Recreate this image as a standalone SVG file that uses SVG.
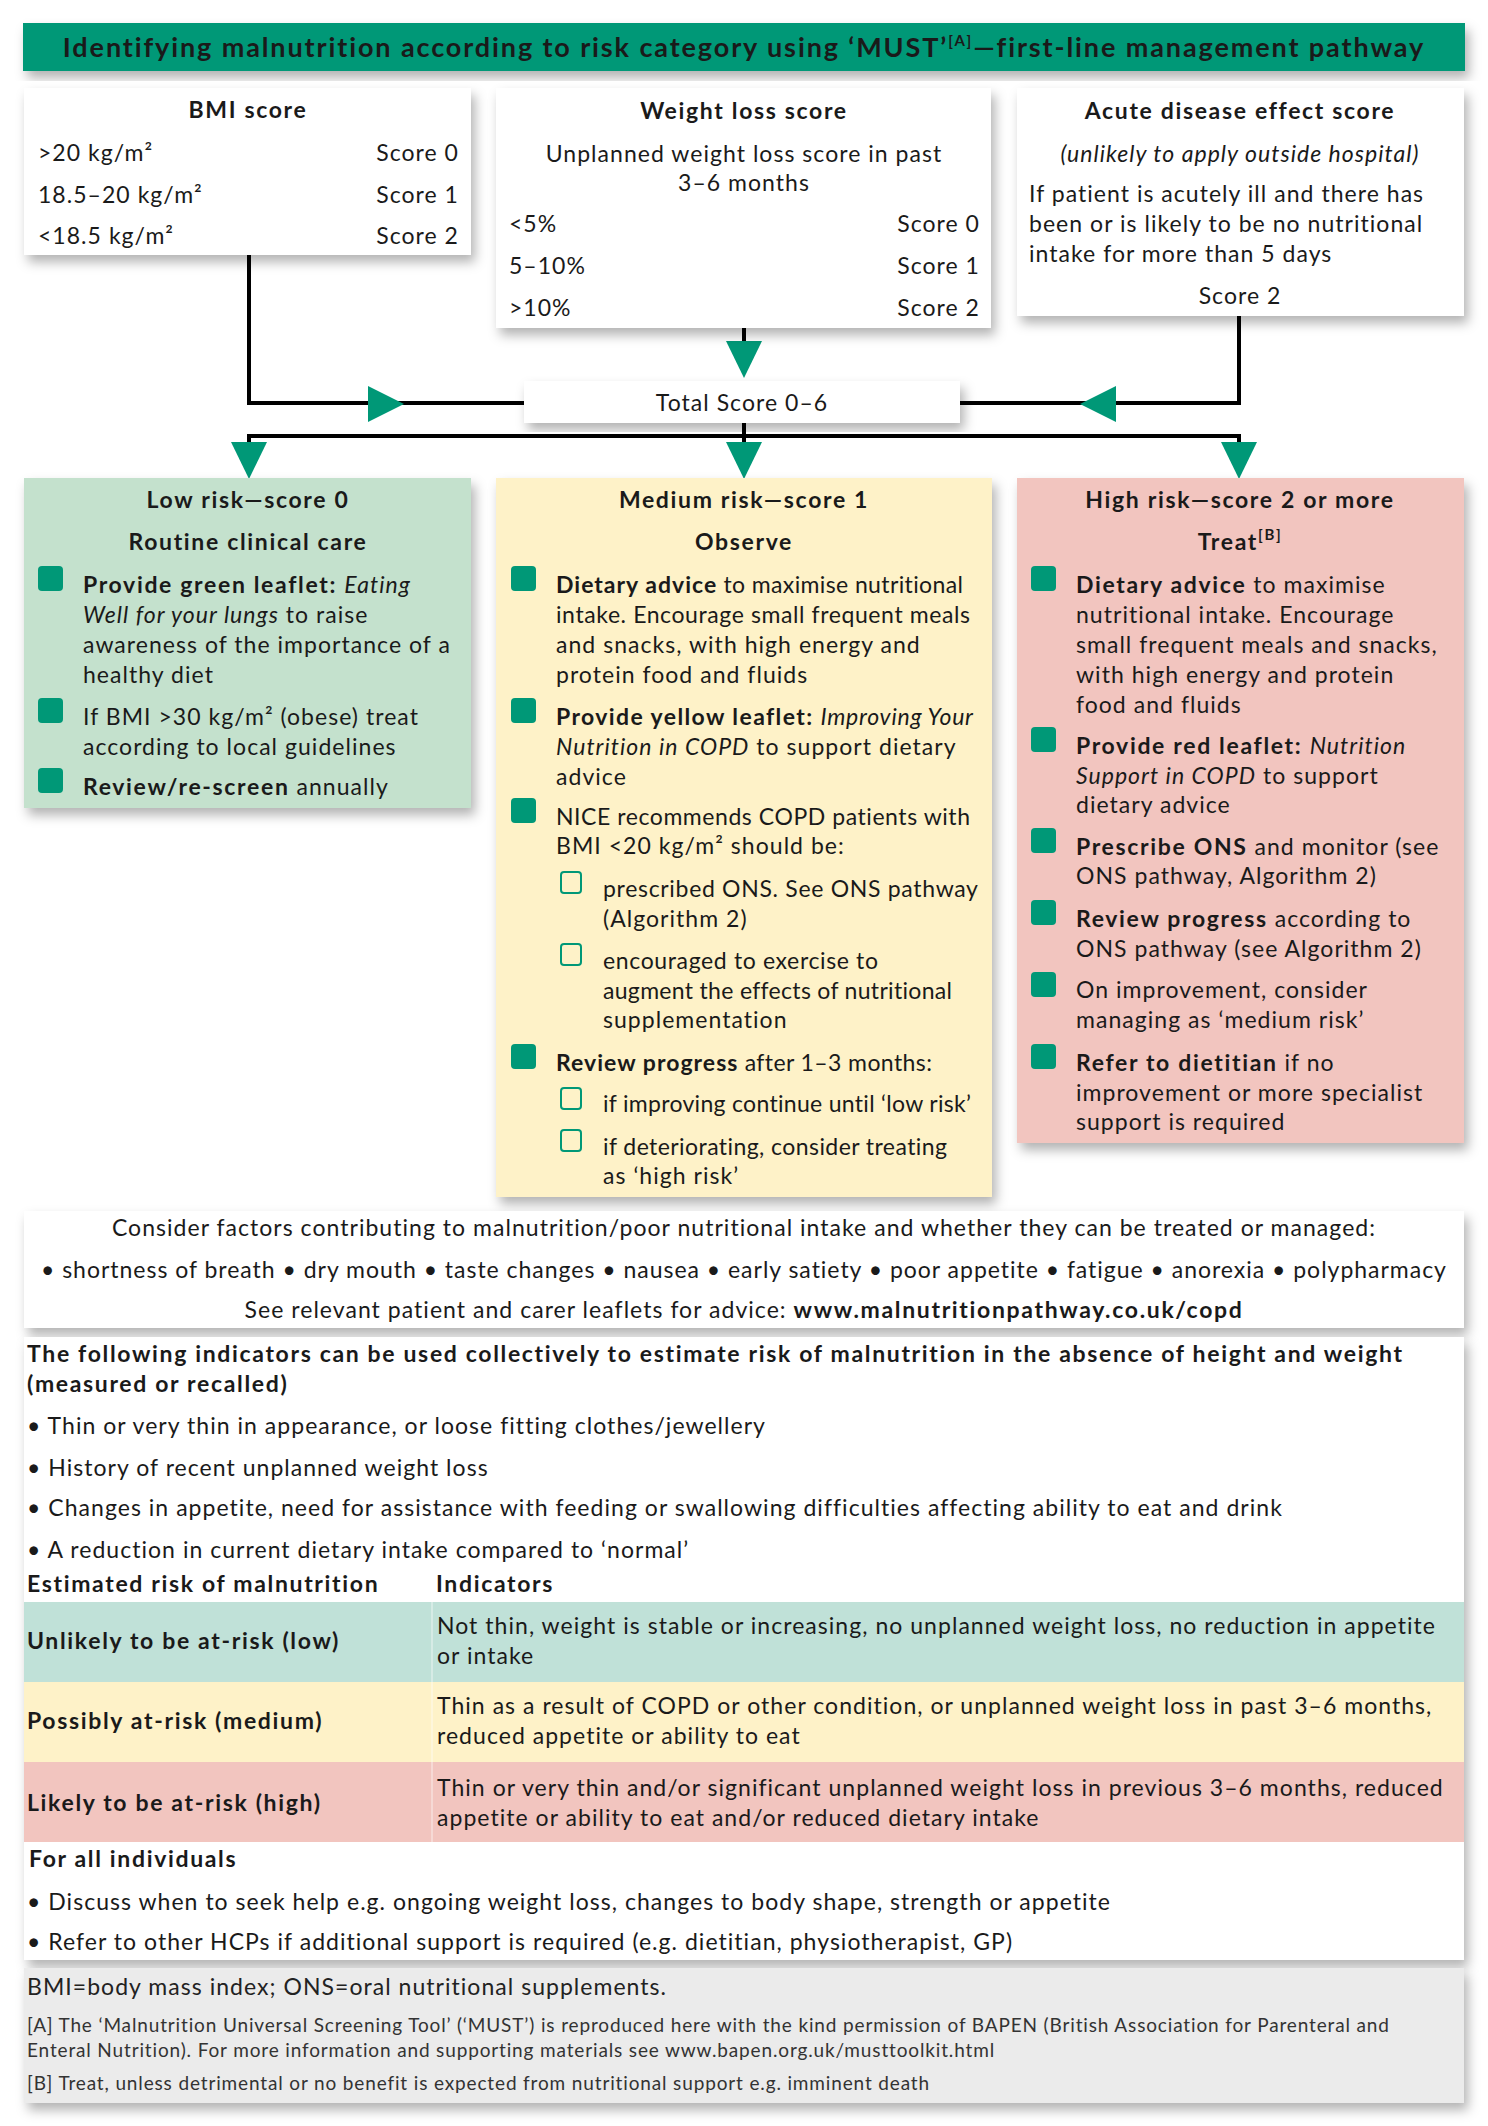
<svg xmlns="http://www.w3.org/2000/svg" width="1488" height="2126" viewBox="0 0 1488 2126">
<style>
text{font-family:Lato,'Noto Sans',sans-serif;font-size:23px;fill:#1a1a1a;letter-spacing:0.045em}
.b{font-weight:700;letter-spacing:0.072em}
.i{font-style:italic}
.c{text-anchor:middle}
.e{text-anchor:end}
.sm{font-size:19px;fill:#333}
.ttl{font-size:27px;font-weight:700;letter-spacing:0.07em}
.box{fill:#fff;filter:url(#sh)}
.bul{fill:#009877}
.sub{fill:none;stroke:#009877;stroke-width:2}
.ln{fill:none;stroke:#000;stroke-width:4}
.ar{fill:#009877}
</style>
<defs>
<filter id="sh" x="-5%" y="-10%" width="115%" height="130%">
<feDropShadow dx="4" dy="7" stdDeviation="6" flood-color="#000" flood-opacity="0.3"/>
</filter>
</defs>
<rect width="1488" height="2126" fill="#fff"/>

<g id="title">
<rect x="23" y="23" width="1442" height="48" fill="#009877" filter="url(#sh)"/>
<text class="ttl c" x="744" y="57">Identifying malnutrition according to risk category using ‘MUST’<tspan font-size="15" dy="-11">[A]</tspan><tspan dy="11">—first-line management pathway</tspan></text>
</g>

<g id="connectors">
<polyline class="ln" points="249,255 249,403 530,403"/>
<line class="ln" x1="744" y1="328" x2="744" y2="345"/>
<polyline class="ln" points="1239,316 1239,403 955,403"/>
<polyline class="ln" points="249,446 249,436 1239,436 1239,446"/>
<line class="ln" x1="744" y1="420" x2="744" y2="446"/>
<polygon class="ar" points="368,386 404,404 368,422"/>
<polygon class="ar" points="1116,386 1080,404 1116,422"/>
<polygon class="ar" points="726,341 762,341 744,378"/>
<polygon class="ar" points="231,442 267,442 249,479"/>
<polygon class="ar" points="726,442 762,442 744,479"/>
<polygon class="ar" points="1221,442 1257,442 1239,479"/>
</g>

<g id="bmi">
<rect class="box" x="24" y="88" width="447" height="167"/>
<text class="b c" x="248" y="118">BMI score</text>
<text x="38" y="161">&gt;20 kg/m²</text><text class="e" x="459" y="161">Score 0</text>
<text x="38" y="203">18.5–20 kg/m²</text><text class="e" x="459" y="203">Score 1</text>
<text x="38" y="244">&lt;18.5 kg/m²</text><text class="e" x="459" y="244">Score 2</text>
</g>

<g id="weightloss">
<rect class="box" x="496" y="88" width="495" height="240"/>
<text class="b c" x="744" y="119">Weight loss score</text>
<text class="c" x="744" y="162">Unplanned weight loss score in past</text>
<text class="c" x="744" y="191">3–6 months</text>
<text x="509" y="232">&lt;5%</text><text class="e" x="980" y="232">Score 0</text>
<text x="509" y="274">5–10%</text><text class="e" x="980" y="274">Score 1</text>
<text x="509" y="316">&gt;10%</text><text class="e" x="980" y="316">Score 2</text>
</g>

<g id="acute">
<rect class="box" x="1017" y="88" width="447" height="228"/>
<text class="b c" x="1240" y="119">Acute disease effect score</text>
<text class="i c" x="1240" y="162">(unlikely to apply outside hospital)</text>
<text x="1029" y="202">If patient is acutely ill and there has</text>
<text x="1029" y="232">been or is likely to be no nutritional</text>
<text x="1029" y="262">intake for more than 5 days</text>
<text class="c" x="1240" y="304">Score 2</text>
</g>

<g id="total">
<rect class="box" x="524" y="381" width="436" height="42"/>
<text class="c" x="742" y="411">Total Score 0–6</text>
</g>

<g id="low">
<rect x="24" y="478" width="447" height="330" fill="#c4e1cd" filter="url(#sh)"/>
<text class="b c" x="248" y="508">Low risk—score 0</text>
<text class="b c" x="248" y="550">Routine clinical care</text>
<rect class="bul" x="38" y="566" width="25" height="25" rx="4"/>
<text x="83" y="593"><tspan class="b">Provide green leaflet: </tspan><tspan class="i">Eating</tspan></text>
<text x="83" y="623"><tspan class="i">Well for your lungs</tspan> to raise</text>
<text x="83" y="653">awareness of the importance of a</text>
<text x="83" y="683">healthy diet</text>
<rect class="bul" x="38" y="698" width="25" height="25" rx="4"/>
<text x="83" y="725">If BMI &gt;30 kg/m² (obese) treat</text>
<text x="83" y="755">according to local guidelines</text>
<rect class="bul" x="38" y="768" width="25" height="25" rx="4"/>
<text x="83" y="795"><tspan class="b">Review/re-screen</tspan> annually</text>
</g>

<g id="medium">
<rect x="496" y="478" width="496" height="719" fill="#fef2c8" filter="url(#sh)"/>
<text class="b c" x="744" y="508">Medium risk—score 1</text>
<text class="b c" x="744" y="550">Observe</text>
<rect class="bul" x="511" y="566" width="25" height="25" rx="4"/>
<text x="556" y="593" textLength="408" lengthAdjust="spacing"><tspan class="b">Dietary advice</tspan> to maximise nutritional</text>
<text x="556" y="623" textLength="415" lengthAdjust="spacing">intake. Encourage small frequent meals</text>
<text x="556" y="653">and snacks, with high energy and</text>
<text x="556" y="683">protein food and fluids</text>
<rect class="bul" x="511" y="698" width="25" height="25" rx="4"/>
<text x="556" y="725" textLength="418" lengthAdjust="spacing"><tspan class="b">Provide yellow leaflet: </tspan><tspan class="i">Improving Your</tspan></text>
<text x="556" y="755">
<tspan class="i">Nutrition in COPD</tspan> to support dietary</text>
<text x="556" y="785">advice</text>
<rect class="bul" x="511" y="798" width="25" height="25" rx="4"/>
<text x="556" y="825" textLength="415" lengthAdjust="spacing">NICE recommends COPD patients with</text>
<text x="556" y="854">BMI &lt;20 kg/m² should be:</text>
<rect class="sub" x="561" y="872" width="20" height="21" rx="3"/>
<text x="603" y="897" textLength="376" lengthAdjust="spacing">prescribed ONS. See ONS pathway</text>
<text x="603" y="927">(Algorithm 2)</text>
<rect class="sub" x="561" y="944" width="20" height="21" rx="3"/>
<text x="603" y="969" textLength="276" lengthAdjust="spacing">encouraged to exercise to</text>
<text x="603" y="999" textLength="350" lengthAdjust="spacing">augment the effects of nutritional</text>
<text x="603" y="1028">supplementation</text>
<rect class="bul" x="511" y="1044" width="25" height="25" rx="4"/>
<text x="556" y="1071" textLength="377" lengthAdjust="spacing"><tspan class="b">Review progress</tspan> after 1–3 months:</text>
<rect class="sub" x="561" y="1088" width="20" height="21" rx="3"/>
<text x="603" y="1112" textLength="369" lengthAdjust="spacing">if improving continue until ‘low risk’</text>
<rect class="sub" x="561" y="1130" width="20" height="21" rx="3"/>
<text x="603" y="1155" textLength="345" lengthAdjust="spacing">if deteriorating, consider treating</text>
<text x="603" y="1184">as ‘high risk’</text>
</g>

<g id="high">
<rect x="1017" y="478" width="447" height="665" fill="#f2c5bf" filter="url(#sh)"/>
<text class="b c" x="1240" y="508">High risk—score 2 or more</text>
<text class="b c" x="1240" y="550">Treat<tspan font-size="15" dy="-10">[B]</tspan></text>
<rect class="bul" x="1031" y="566" width="25" height="25" rx="4"/>
<text x="1076" y="593"><tspan class="b">Dietary advice</tspan> to maximise</text>
<text x="1076" y="623">nutritional intake. Encourage</text>
<text x="1076" y="653">small frequent meals and snacks,</text>
<text x="1076" y="683">with high energy and protein</text>
<text x="1076" y="713">food and fluids</text>
<rect class="bul" x="1031" y="727" width="25" height="25" rx="4"/>
<text x="1076" y="754"><tspan class="b">Provide red leaflet: </tspan><tspan class="i">Nutrition</tspan></text>
<text x="1076" y="784"><tspan class="i">Support in COPD</tspan> to support</text>
<text x="1076" y="813">dietary advice</text>
<rect class="bul" x="1031" y="828" width="25" height="25" rx="4"/>
<text x="1076" y="855"><tspan class="b">Prescribe ONS</tspan> and monitor (see</text>
<text x="1076" y="884">ONS pathway, Algorithm 2)</text>
<rect class="bul" x="1031" y="900" width="25" height="25" rx="4"/>
<text x="1076" y="927"><tspan class="b">Review progress</tspan> according to</text>
<text x="1076" y="957">ONS pathway (see Algorithm 2)</text>
<rect class="bul" x="1031" y="972" width="25" height="25" rx="4"/>
<text x="1076" y="998">On improvement, consider</text>
<text x="1076" y="1028">managing as ‘medium risk’</text>
<rect class="bul" x="1031" y="1044" width="25" height="25" rx="4"/>
<text x="1076" y="1071"><tspan class="b">Refer to dietitian</tspan> if no</text>
<text x="1076" y="1101">improvement or more specialist</text>
<text x="1076" y="1130">support is required</text>
</g>

<g id="factors">
<rect class="box" x="24" y="1211" width="1440" height="117"/>
<text class="c" x="744" y="1236">Consider factors contributing to malnutrition/poor nutritional intake and whether they can be treated or managed:</text>
<text class="c" x="744" y="1278" textLength="1406" lengthAdjust="spacing">• shortness of breath • dry mouth • taste changes • nausea • early satiety • poor appetite • fatigue • anorexia • polypharmacy</text>
<text class="c" x="744" y="1318">See relevant patient and carer leaflets for advice: <tspan class="b">www.malnutritionpathway.co.uk/copd</tspan></text>
</g>

<g id="indicators">
<rect class="box" x="24" y="1337" width="1440" height="623"/>
<text class="b" x="27" y="1362">The following indicators can be used collectively to estimate risk of malnutrition in the absence of height and weight</text>
<text class="b" x="27" y="1392">(measured or recalled)</text>
<text x="27" y="1434">• Thin or very thin in appearance, or loose fitting clothes/jewellery</text>
<text x="27" y="1476">• History of recent unplanned weight loss</text>
<text x="27" y="1516">• Changes in appetite, need for assistance with feeding or swallowing difficulties affecting ability to eat and drink</text>
<text x="27" y="1558">• A reduction in current dietary intake compared to ‘normal’</text>
<text class="b" x="27" y="1592">Estimated risk of malnutrition</text>
<text class="b" x="436" y="1592">Indicators</text>
<rect x="24" y="1602" width="1440" height="80" fill="#c0e1d8"/>
<rect x="24" y="1682" width="1440" height="80" fill="#fef2c8"/>
<rect x="24" y="1762" width="1440" height="80" fill="#f2c5bf"/>
<line x1="432" y1="1568" x2="432" y2="1842" stroke="#fff" stroke-opacity="0.35" stroke-width="2"/>
<text class="b" x="27" y="1649">Unlikely to be at-risk (low)</text>
<text x="437" y="1634">Not thin, weight is stable or increasing, no unplanned weight loss, no reduction in appetite</text>
<text x="437" y="1664">or intake</text>
<text class="b" x="27" y="1729">Possibly at-risk (medium)</text>
<text x="437" y="1714">Thin as a result of COPD or other condition, or unplanned weight loss in past 3–6 months,</text>
<text x="437" y="1744">reduced appetite or ability to eat</text>
<text class="b" x="27" y="1811">Likely to be at-risk (high)</text>
<text x="437" y="1796">Thin or very thin and/or significant unplanned weight loss in previous 3–6 months, reduced</text>
<text x="437" y="1826">appetite or ability to eat and/or reduced dietary intake</text>
<text class="b" x="29" y="1867">For all individuals</text>
<text x="27" y="1910">• Discuss when to seek help e.g. ongoing weight loss, changes to body shape, strength or appetite</text>
<text x="27" y="1950">• Refer to other HCPs if additional support is required (e.g. dietitian, physiotherapist, GP)</text>
</g>

<g id="footer">
<rect x="24" y="1968" width="1440" height="135" fill="#ebebeb" filter="url(#sh)"/>
<text x="27" y="1995" style="fill:#222">BMI=body mass index; ONS=oral nutritional supplements.</text>
<text class="sm" x="27" y="2032">[A] The ‘Malnutrition Universal Screening Tool’ (‘MUST’) is reproduced here with the kind permission of BAPEN (British Association for Parenteral and</text>
<text class="sm" x="27" y="2057">Enteral Nutrition). For more information and supporting materials see www.bapen.org.uk/musttoolkit.html</text>
<text class="sm" x="27" y="2090">[B] Treat, unless detrimental or no benefit is expected from nutritional support e.g. imminent death</text>
</g>
</svg>
